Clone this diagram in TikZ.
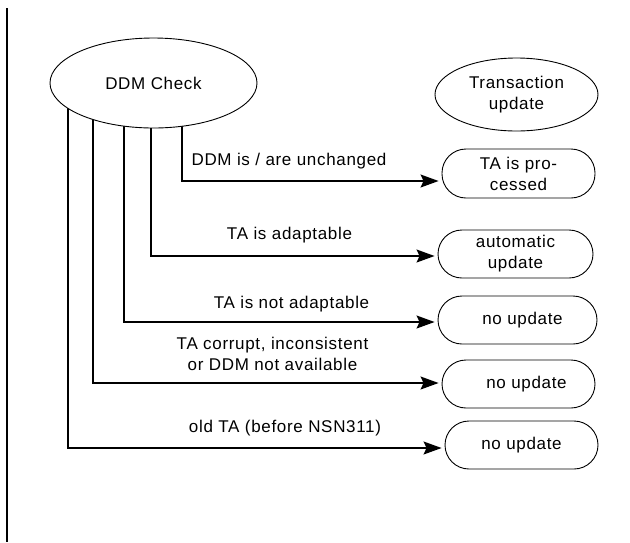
\documentclass[tikz,border=0pt]{standalone}
\usepackage{fontspec}
\setmainfont{Liberation Sans}[LetterSpace=4]
\usetikzlibrary{arrows.meta,backgrounds,shapes.geometric}

\begin{document}
\begin{tikzpicture}[x=1pt,y=-1pt,
  every node/.style={font=\fontsize{17}{21}\selectfont, inner sep=0pt},
  oval/.style={ellipse, draw, line width=0.9pt, fill=white,
    minimum width=207pt, minimum height=90pt, align=center},
  outcome/.style={draw, line width=0.9pt, rounded corners=24pt, fill=white,
    minimum width=153pt, minimum height=48pt, align=center},
  flow/.style={line width=1.2pt,
    -{Stealth[length=18pt,width=13pt,inset=3pt]}, shorten >=3pt},
  lbl/.style={align=center}
]
\useasboundingbox (0,0) rectangle (630,542);

% page margin rule
\draw[line width=1.4pt] (7,8) -- (7,542);

% decision and result nodes
\node[oval] (ddm) at (153.5,83) {DDM Check};
\node[oval, minimum width=163pt, minimum height=73pt] (tu) at (516.5,94.5) {Transaction\\update};

\node[outcome, minimum height=49pt] (o1) at (518.5,173.5) {TA is pro-\\cessed};
\node[outcome, minimum width=155pt] (o2) at (515.5,254) {automatic\\update};
\node[outcome, minimum width=159pt] (o3) at (517.5,320) {\hspace*{10pt}no update};
\node[outcome] (o4) at (518.5,384) {\hspace*{16pt}no update};
\node[outcome] (o5) at (521.5,445) {no update};

% branch columns leaving the check
\coordinate (c1) at (182,0);
\coordinate (c2) at (151,0);
\coordinate (c3) at (124,0);
\coordinate (c4) at (93,0);
\coordinate (c5) at (68,0);

\begin{scope}[on background layer]
\draw[flow] (ddm.center -| c1) |- ([yshift=-7.5pt]o1.west);
\draw[flow] (ddm.center -| c2) |- ([yshift=-2pt]o2.west);
\draw[flow] (ddm.center -| c3) |- ([yshift=-2pt]o3.west);
\draw[flow] (ddm.center -| c4) |- ([yshift=1pt]o4.west);
\draw[flow] (ddm.center -| c5) |- ([yshift=-3pt]o5.west);
\end{scope}

% branch labels
\node[lbl] (l1) at (289,161) {DDM is / are unchanged};
\node[lbl] (l2) at (289.5,235) {TA is adaptable};
\node[lbl] (l3) at (291.5,304) {TA is not adaptable};
\node[lbl] (l4) at (272.5,353.5) {TA corrupt, inconsistent\\or DDM not available};
\node[lbl] (l5) at (285,428) {old TA (before NSN311)};
\end{tikzpicture}
\end{document}
